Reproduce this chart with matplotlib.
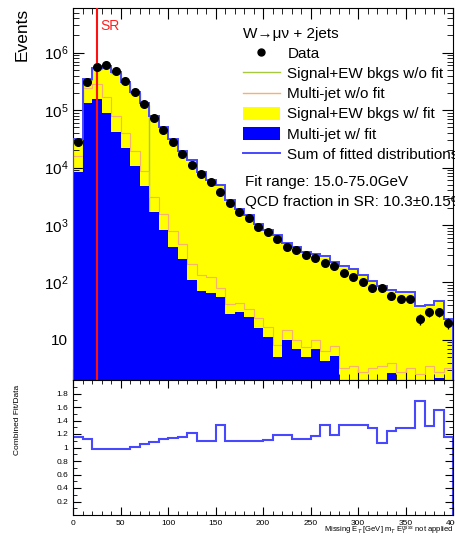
import numpy as np
import matplotlib
matplotlib.use('Agg')
import matplotlib.pyplot as plt
from matplotlib.ticker import MultipleLocator, FixedLocator, FuncFormatter, FormatStrFormatter
from matplotlib.lines import Line2D
from matplotlib.patches import Patch

plt.rcParams['font.family'] = ['Liberation Sans', 'DejaVu Sans']
plt.rcParams['mathtext.fontset'] = 'custom'
plt.rcParams['mathtext.rm'] = 'Liberation Sans'
plt.rcParams['mathtext.it'] = 'Liberation Sans:italic'

# missing ET bins, 10 GeV wide
bin_edges = np.arange(0, 410, 10)

data_events = [27500, 309000, 562000, 603000, 479000, 316000, 204000, 126000, 72400, 44700,
               27500, 17000, 11000, 7590, 5500, 3720, 2450, 1700, 1350, 933,
               741, 562, 417, 372, 302, 269, 219, 195, 148, 126,
               100, 81, 81, 59, 52, 52, 23, 31, 31, 20]

# fitted templates (stacked: multi-jet at bottom, signal+EW on top)
mj_fit = [8500, 132000, 155000, 89000, 41700, 21900, 10500, 4680, 1660, 832,
          417, 251, 112, 71, 66, 56, 28, 30, 25, 16,
          11, 5, 10, 6.8, 5, 6.8, 4.2, 5.2, 0, 0,
          0, 0, 0, 2.6, 0, 0, 0, 0, 2.15, 0]
sig_fit = [23400, 214000, 396000, 502000, 427000, 288000, 195500, 127000, 76500, 49300,
           31000, 19450, 13190, 8280, 5980, 4920, 2670, 1840, 1465, 1004,
           812, 658, 482, 410, 336, 310, 287, 225, 197, 168,
           133, 104, 87, 71, 67, 67, 39, 41, 46, 23]

# templates before the fit
mj_nofit = [15800, 245000, 288000, 166000, 77600, 40700, 19500, 8700, 3090, 1550,
            776, 468, 209, 132, 123, 79, 42, 43, 35, 24,
            17, 8, 15, 10, 7.6, 10, 6.3, 7.9, 3.2, 3.5,
            2.8, 3.2, 3.5, 4, 2.8, 3.2, 2.5, 3.5, 2.8, 3.2]
sig_nofit = [0, 340000, 520000, 560000, 450000, 300000, 195000, 122000, 0, 0,
             0, 0, 0, 0, 0, 0, 0, 0, 0, 0,
             0, 0, 0, 0, 0, 0, 0, 0, 0, 0,
             0, 0, 0, 0, 0, 0, 0, 0, 0, 0]

sr_cut = 25
ratio_ticks = [0.2, 0.4, 0.6, 0.8, 1.0, 1.2, 1.4, 1.6, 1.8]

W, H = 455, 546
fig = plt.figure(figsize=(W / 100, H / 100), dpi=100)
ax = fig.add_axes([73 / W, 1 - 380 / H, 380 / W, 372 / H])
rax = fig.add_axes([73 / W, 1 - 515 / H, 380 / W, 135 / H], sharex=ax)

data = np.array(data_events, dtype=float)
stack_top = np.array(mj_fit) + np.array(sig_fit)
centers = 0.5 * (bin_edges[1:] + bin_edges[:-1])

YELLOW = '#ffff00'
BLUE = '#0000ff'
SUMC = '#4848ff'
GREEN = '#a8c840'
ORANGE = '#f8b070'

ax.stairs(stack_top, bin_edges, fill=True, color=YELLOW, zorder=1)
ax.stairs(sig_nofit, bin_edges, color=GREEN, lw=1, zorder=2)
ax.stairs(mj_nofit, bin_edges, color=ORANGE, lw=0.8, zorder=2)
ax.stairs(mj_fit, bin_edges, fill=True, color=BLUE, zorder=3)
ax.stairs(stack_top, bin_edges, color=SUMC, lw=1.4, zorder=4)
ax.axvline(sr_cut, color='#ff1010', lw=1.5, zorder=5)
ax.errorbar(centers, data, yerr=np.sqrt(data), fmt='o', color='black', ms=5.5,
            lw=1, zorder=6)
ax.text(sr_cut + 4, 2.9e6, 'SR', color='#ff2020', fontsize=10, va='center')

ax.set_yscale('log')
ax.set_ylim(2, 6e6)
ax.set_xlim(0, 400)
ax.xaxis.set_major_locator(MultipleLocator(50))
ax.xaxis.set_minor_locator(MultipleLocator(10))
ax.yaxis.set_major_formatter(FuncFormatter(
    lambda v, _: '10' if abs(v - 10) < 1e-6 else '$10^{%d}$' % round(np.log10(v))))
ax.tick_params(which='both', direction='in', top=True, right=True)
ax.tick_params(which='major', length=8)
ax.tick_params(which='minor', length=4)
ax.tick_params(axis='y', labelsize=11)
ax.tick_params(axis='x', labelbottom=False)

handles = [
    Line2D([], [], marker='o', color='black', ls='none', ms=5),
    Line2D([], [], color=GREEN, lw=1),
    Line2D([], [], color=ORANGE, lw=1),
    Patch(facecolor=YELLOW),
    Patch(facecolor=BLUE),
    Line2D([], [], color=SUMC, lw=1.4),
]
labels = ['Data', 'Signal+EW bkgs w/o fit', 'Multi-jet w/o fit',
          'Signal+EW bkgs w/ fit', 'Multi-jet w/ fit', 'Sum of fitted distributions']
ax.legend(handles, labels, title='W\u2192\u03bc\u03bd + 2jets', loc='upper left',
          bbox_to_anchor=(243 / W, 1 - 27 / H), bbox_transform=fig.transFigure,
          frameon=False, fontsize=11, title_fontsize=11, alignment='left',
          handlelength=2.4, handleheight=0.9, handletextpad=0.5,
          labelspacing=0.36, borderpad=0, borderaxespad=0)
fig.text(245 / W, 1 - 182 / H, 'Fit range: 15.0-75.0GeV', fontsize=11, va='center')
fig.text(245 / W, 1 - 202 / H, 'QCD fraction in SR: 10.3\u00b10.15%', fontsize=11, va='center')
fig.text(22 / W, 1 - 8 / H, 'Events', rotation=90, fontsize=12.5, va='top', ha='center')

# ratio panel
ratio = stack_top / data
rax.stairs(ratio, bin_edges, color=SUMC, lw=1.5)
rax.set_ylim(0, 2)
rax.yaxis.set_major_locator(FixedLocator(ratio_ticks))
rax.yaxis.set_minor_locator(MultipleLocator(0.1))
rax.yaxis.set_major_formatter(FormatStrFormatter('%g'))
rax.tick_params(which='both', direction='in', top=True, right=True, labelsize=6)
rax.tick_params(which='major', length=6)
rax.tick_params(which='minor', length=3)
fig.text(18 / W, 1 - 385 / H, 'Combined Fit/Data', rotation=90, fontsize=6,
         va='top', ha='center')
fig.text(454 / W, 1 - 530 / H,
         'Missing E$_T$ [GeV] m$_T$ E$_T^{miss}$ not applied', fontsize=5.5,
         va='center', ha='right')

fig.savefig('out.png', dpi=100)
